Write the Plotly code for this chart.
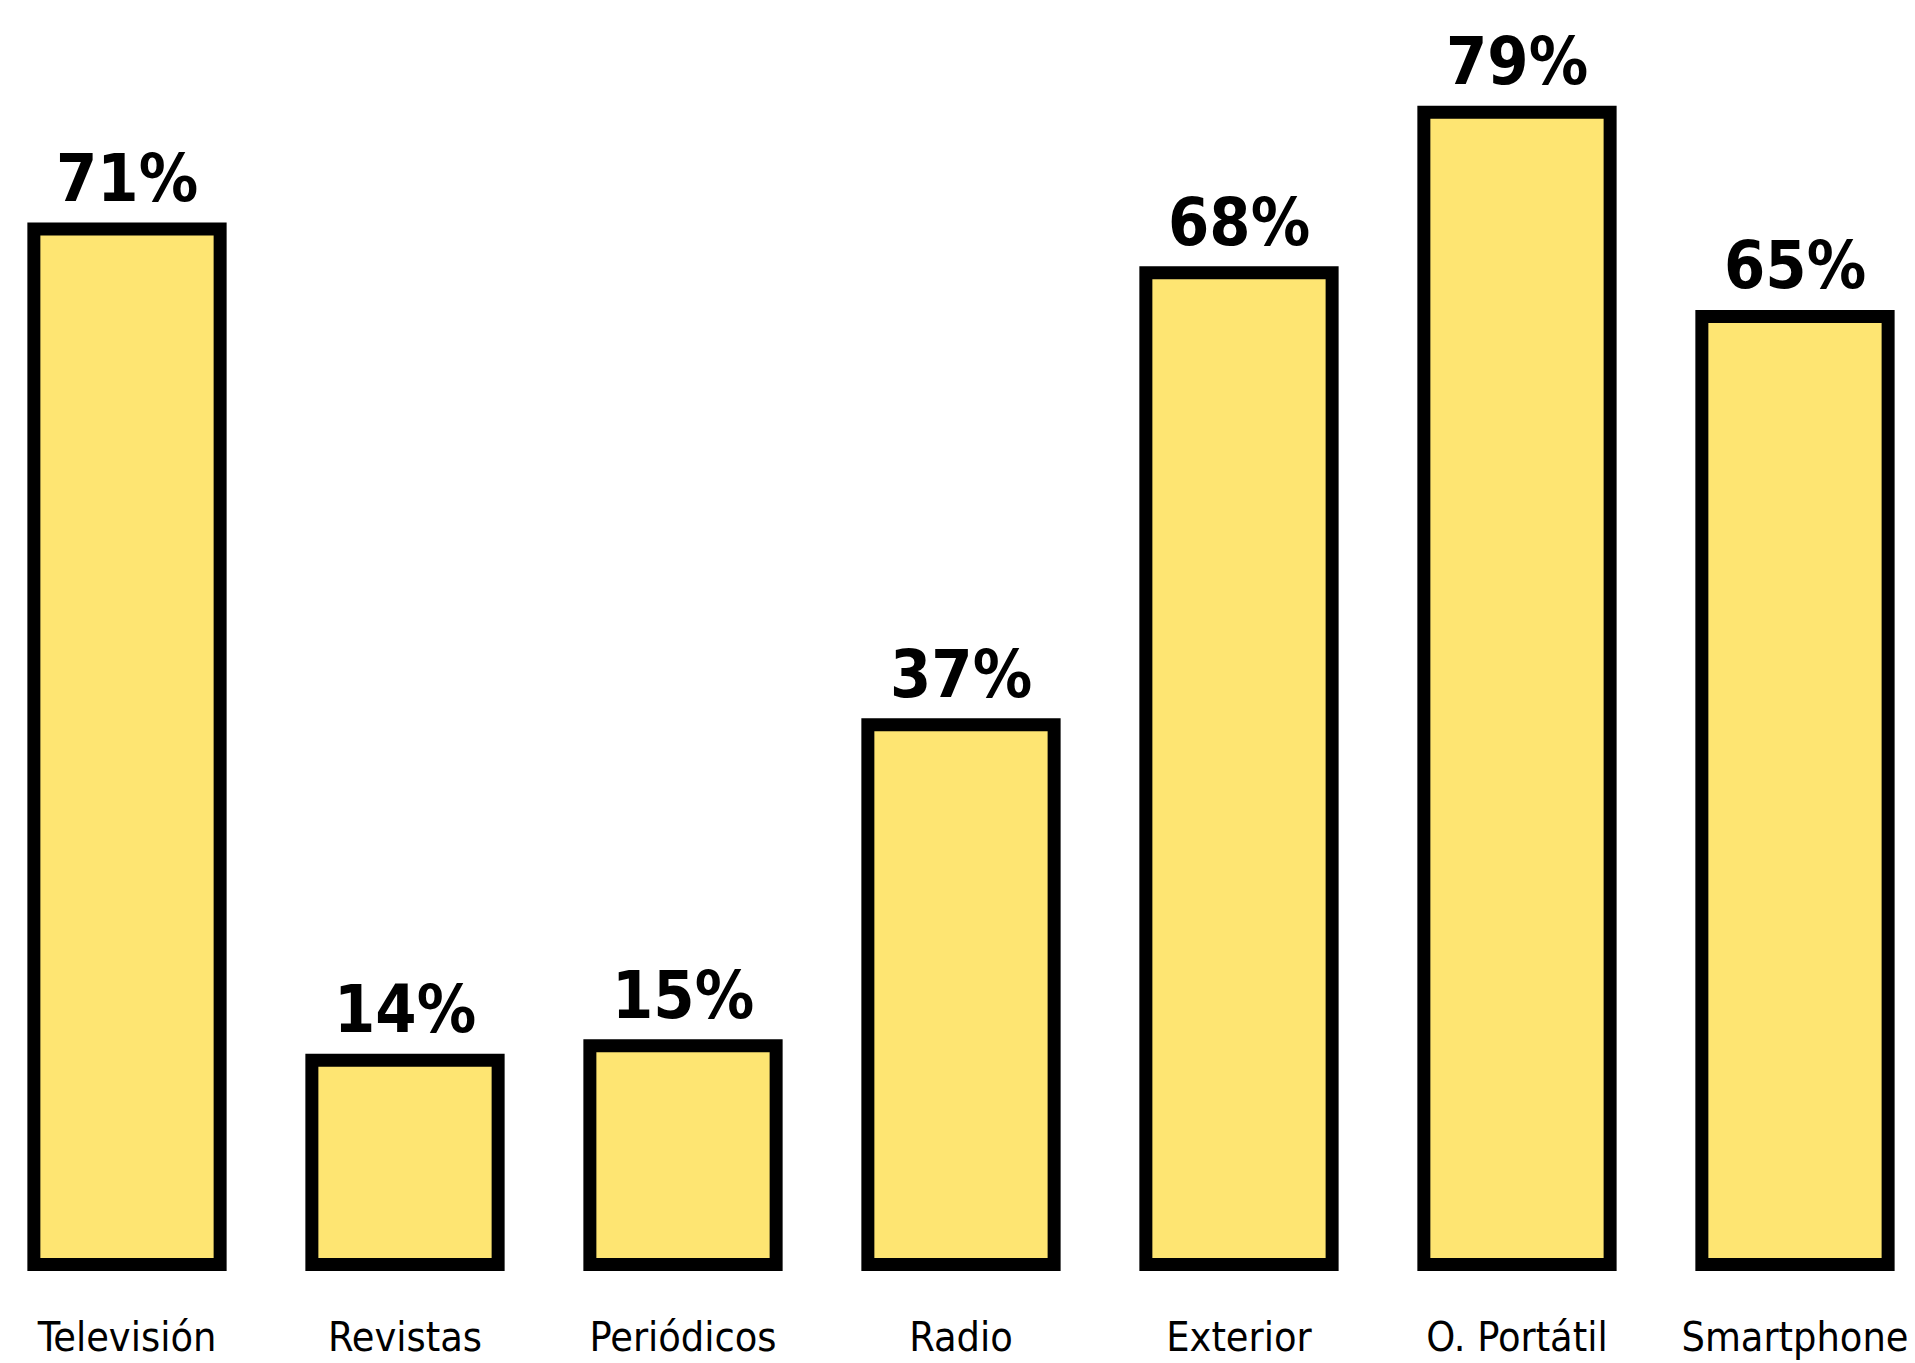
import plotly.graph_objects as go

categories = ["Televisión", "Revistas", "Periódicos", "Radio", "Exterior", "O. Portátil", "Smartphone"]
values = [71, 14, 15, 37, 68, 79, 65]
value_labels = ["71%", "14%", "15%", "37%", "68%", "79%", "65%"]

FONT = "DejaVu Sans, Liberation Sans, sans-serif"
COND = "font-stretch:condensed"

fig = go.Figure()
fig.add_trace(go.Bar(
    x=list(range(len(categories))),
    y=values,
    width=0.67,
    marker=dict(color="#FEE572", line=dict(color="#000000", width=13)),
    hoverinfo="skip",
))

for i, (v, t) in enumerate(zip(values, value_labels)):
    fig.add_annotation(x=i, y=v, text=f'<span style="{COND}">{t}</span>', showarrow=False,
                       yanchor="bottom", yshift=10,
                       font=dict(family=FONT, size=66, color="#000000", weight="bold"))

fig.update_layout(
    width=1907, height=1355,
    margin=dict(l=0, r=0, t=0, b=84),
    paper_bgcolor="white", plot_bgcolor="white",
    showlegend=False,
)
fig.update_xaxes(
    range=[-0.42806, 6.4317],
    tickmode="array", tickvals=list(range(len(categories))),
    ticktext=[f'<span style="{COND}">{c}</span>' for c in categories],
    tickfont=dict(family=FONT, size=41, color="#000000"),
    showgrid=False, zeroline=False, showline=False, ticks="",
    ticklabelstandoff=30, ticklabeloverflow="allow",
)
fig.update_yaxes(range=[-1, 86.15], visible=False, showgrid=False, zeroline=False)

fig.write_html("out.html")
